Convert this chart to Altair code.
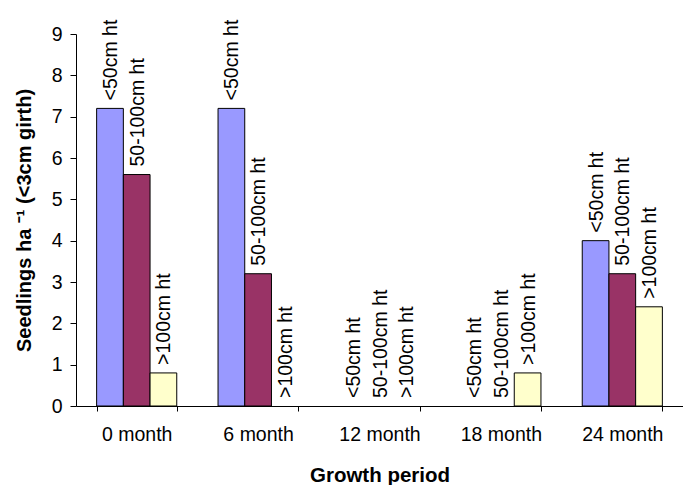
import altair as alt
import pandas as pd

# Seedling counts by growth period and height class
periods = ["0 month", "6 month", "12 month", "18 month", "24 month"]
height_classes = ["<50cm ht", "50-100cm ht", ">100cm ht"]
below_50 = [7.2, 7.2, 0.0, 0.0, 4.0]
from_50_to_100 = [5.6, 3.2, 0.0, 0.0, 3.2]
above_100 = [0.8, 0.0, 0.0, 0.8, 2.4]
class_colors = ["#9999FF", "#993366", "#FFFFCC"]
y_ticks = [0, 1, 2, 3, 4, 5, 6, 7, 8, 9]

rows = []
for cls, values in zip(height_classes, [below_50, from_50_to_100, above_100]):
    for period, v in zip(periods, values):
        rows.append({"period": period, "cls": cls, "value": v})
df = pd.DataFrame(rows)

FONT = "Liberation Sans"

x_enc = alt.X(
    "period:N",
    sort=periods,
    scale=alt.Scale(paddingInner=0.34, paddingOuter=0.17),
    axis=alt.Axis(
        title="Growth period",
        titleFont=FONT,
        titleFontSize=20.5,
        titleFontWeight="bold",
        titleColor="black",
        titleBaseline="top",
        titleY=59,
        labelFont=FONT,
        labelFontSize=19.5,
        labelColor="black",
        labelAngle=0,
        labelPadding=14,
        tickBand="extent",
        tickSize=5,
        tickColor="black",
        domainColor="black",
        grid=False,
    ),
)
xoff_enc = alt.XOffset(
    "cls:N", sort=height_classes, scale=alt.Scale(paddingInner=0, paddingOuter=0)
)
y_enc = alt.Y(
    "value:Q",
    scale=alt.Scale(domain=[0, 9], nice=False),
    axis=alt.Axis(
        title="Seedlings ha ⁻¹ (<3cm girth)",
        titleFont=FONT,
        titleFontSize=20,
        titleFontWeight="bold",
        titleColor="black",
        titleAngle=270,
        titleAlign="center",
        titleBaseline="middle",
        titleX=-52,
        titleY=186,
        values=y_ticks,
        labelFont=FONT,
        labelFontSize=19.5,
        labelColor="black",
        labelPadding=8,
        tickSize=6,
        tickColor="black",
        domainColor="black",
        grid=False,
    ),
)

# Outlined bars; empty (zero) bars get no outline
bars = alt.Chart(df).mark_bar(stroke="black").encode(
    x=x_enc,
    xOffset=xoff_enc,
    y=y_enc,
    color=alt.Color(
        "cls:N",
        sort=height_classes,
        scale=alt.Scale(domain=height_classes, range=class_colors),
        legend=None,
    ),
    strokeWidth=alt.condition("datum.value > 0", alt.value(1), alt.value(0)),
)

# Vertical class names sitting just above each bar
labels = alt.Chart(df).mark_text(
    angle=270,
    align="left",
    baseline="middle",
    dx=8,
    dy=1,
    font=FONT,
    fontSize=19.5,
    color="black",
).encode(
    x=alt.X("period:N", sort=periods),
    xOffset=alt.XOffset("cls:N", sort=height_classes),
    y=alt.Y("value:Q"),
    text="cls:N",
)

chart = (
    alt.layer(bars, labels)
    .properties(
        width=607,
        height=372,
        padding={"left": 76, "top": 34, "right": 0, "bottom": 79},
        autosize=alt.AutoSizeParams(type="none"),
        background="white",
    )
    .configure_view(stroke=None)
)

chart.save("out.html", embed_options={"renderer": "svg", "actions": False})
